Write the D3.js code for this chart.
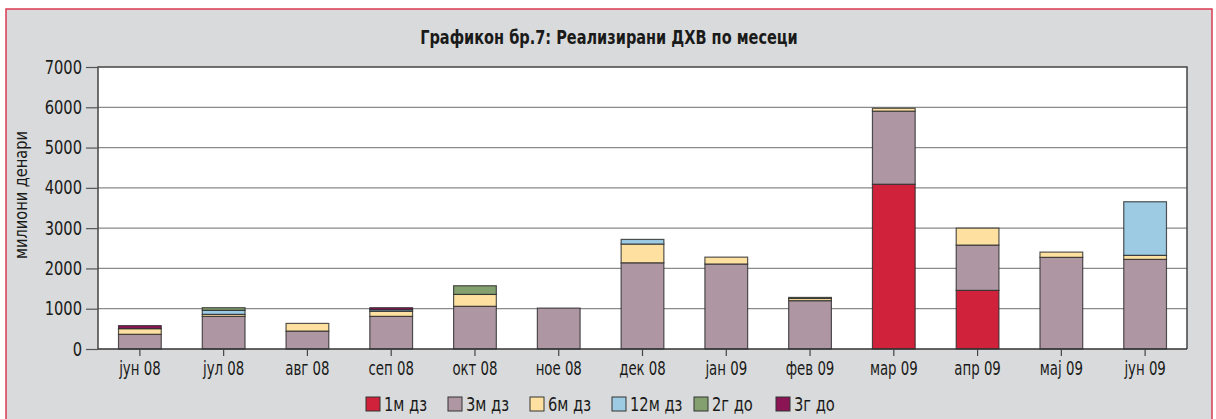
<!DOCTYPE html>
<html>
<head>
<meta charset="utf-8">
<script src="https://cdn.jsdelivr.net/npm/d3@7"></script>
<style>
  body { margin: 0; background: #fff; }
  text { font-family: "Liberation Sans Narrow", "DejaVu Sans Condensed", sans-serif; font-stretch: condensed; fill: #1a1a1a; }
</style>
</head>
<body>
<div id="container"></div>
<script>
var months = ["јун 08", "јул 08", "авг 08", "сеп 08", "окт 08", "ное 08", "дек 08",
              "јан 09", "фев 09", "мар 09", "апр 09", "мај 09", "јун 09"];

var seriesNames = ["1м дз", "3м дз", "6м дз", "12м дз", "2г до", "3г до"];

var m1  = [0,   0,   0,   0,   0,    0,    0,    0,    0,    4090, 1455, 0,    0];
var m3  = [365, 810, 445, 810, 1060, 1015, 2140, 2110, 1200, 1815, 1125, 2275, 2225];
var m6  = [140, 50,  190, 125, 295,  0,    465,  170,  55,   70,   420,  130,  100];
var m12 = [0,   100, 0,   40,  0,    0,    115,  0,    0,    0,    0,    0,    1330];
var y2  = [0,   65,  0,   0,   215,  0,    0,    0,    25,   0,    0,    0,    0];
var y3  = [75,  0,   0,   50,  0,    0,    0,    0,    0,    0,    0,    0,    0];

var yTicks = [0, 1000, 2000, 3000, 4000, 5000, 6000, 7000];

var colors = ["#d0223a", "#ae97a3", "#fee1a1", "#9ccbe3", "#84a06f", "#8b1455"];

var W = 1216, H = 419;
var plot = {left: 98, right: 1187, top: 67, bottom: 349};

// squeeze a text horizontally around its anchor point, keeping glyph height
function squeeze(sel, k) {
    sel.each(function() {
        var t = d3.select(this);
        var tx = +t.attr("x") || 0;
        t.attr("transform", "translate(" + tx + ",0) scale(" + k + ",1) translate(" + (-tx) + ",0)");
    });
}

function drawChart() {
    var svg = d3.select("#container")
      .append("svg")
        .attr("width", W)
        .attr("height", H);

    svg.append("rect")
        .attr("x", 0).attr("y", 0).attr("width", W).attr("height", H)
        .attr("fill", "#fff");
    svg.append("rect")
        .attr("x", 6).attr("y", 9).attr("width", 1206).attr("height", H)
        .attr("fill", "#d9dadb")
        .attr("stroke", "#d93a52").attr("stroke-width", 1.5);

    svg.append("text")
        .attr("x", 609).attr("y", 44)
        .attr("text-anchor", "middle")
        .style("font-size", "19px").style("font-weight", "bold")
        .text("Графикон бр.7: Реализирани ДХВ по месеци")
        .call(squeeze, 0.85);

    var x = d3.scaleBand()
        .domain(months)
        .range([plot.left, plot.right])
        .paddingInner(0.49)
        .paddingOuter(0.245);

    var y = d3.scaleLinear()
        .domain([0, 7000])
        .range([plot.bottom, plot.top]);

    svg.append("rect")
        .attr("x", plot.left).attr("y", plot.top)
        .attr("width", plot.right - plot.left).attr("height", plot.bottom - plot.top)
        .attr("fill", "#fff");

    // grid
    svg.append("g")
        .selectAll("line")
        .data(yTicks.filter(function(d) { return d > 0 && d < 7000; }))
        .enter().append("line")
        .attr("x1", plot.left).attr("x2", plot.right)
        .attr("y1", function(d) { return y(d); })
        .attr("y2", function(d) { return y(d); })
        .attr("stroke", "#8a8a8a").attr("stroke-width", 1.2);

    // stacked bars
    var rows = months.map(function(m, i) {
        return {month: m, s0: m1[i], s1: m3[i], s2: m6[i], s3: m12[i], s4: y2[i], s5: y3[i]};
    });
    var stack = d3.stack().keys(["s0", "s1", "s2", "s3", "s4", "s5"]);
    var layers = stack(rows);

    svg.append("g")
        .selectAll("g")
        .data(layers)
        .enter().append("g")
        .attr("fill", function(d, i) { return colors[i]; })
        .selectAll("rect")
        .data(function(d) { return d.filter(function(p) { return p[1] - p[0] > 0; }); })
        .enter().append("rect")
        .attr("x", function(d) { return x(d.data.month); })
        .attr("width", x.bandwidth())
        .attr("y", function(d) { return y(d[1]); })
        .attr("height", function(d) { return y(d[0]) - y(d[1]); })
        .attr("stroke", "#2b2b2b").attr("stroke-opacity", 0.8).attr("stroke-width", 1.2);

    // plot frame
    svg.append("path")
        .attr("d", "M" + plot.left + "," + plot.bottom + "V" + plot.top + "H" + plot.right + "V" + plot.bottom)
        .attr("fill", "none").attr("stroke", "#444").attr("stroke-width", 1.5);
    svg.append("line")
        .attr("x1", plot.left).attr("x2", plot.right)
        .attr("y1", plot.bottom).attr("y2", plot.bottom)
        .attr("stroke", "#333").attr("stroke-width", 1.5);

    // y axis
    var yAxis = svg.append("g")
        .attr("transform", "translate(" + plot.left + ",0)")
        .call(d3.axisLeft(y).tickValues(yTicks).tickSize(12).tickPadding(4).tickFormat(d3.format("d")));
    yAxis.select(".domain").remove();
    yAxis.selectAll("line").attr("stroke", "#555").attr("stroke-width", 1.2);
    yAxis.selectAll("text").style("font-size", "19px").attr("fill", "#1a1a1a")
        .style("font-family", "'Liberation Sans Narrow', 'DejaVu Sans Condensed', sans-serif")
        .call(squeeze, 0.86);

    svg.append("text")
        .attr("transform", "translate(27,195) rotate(-90) scale(0.9,1)")
        .attr("text-anchor", "middle")
        .style("font-size", "18px")
        .text("милиони денари");

    // x axis
    var xAxis = svg.append("g")
        .attr("transform", "translate(0," + plot.bottom + ")")
        .call(d3.axisBottom(x).tickSize(7).tickPadding(6));
    xAxis.select(".domain").remove();
    xAxis.selectAll("line").attr("stroke", "#444").attr("stroke-width", 1.2);
    xAxis.selectAll("text").style("font-size", "19px").attr("fill", "#1a1a1a")
        .style("font-family", "'Liberation Sans Narrow', 'DejaVu Sans Condensed', sans-serif")
        .call(squeeze, 0.78);

    // legend
    var legend = svg.append("g")
        .selectAll("g")
        .data(seriesNames)
        .enter().append("g")
        .attr("transform", function(d, i) { return "translate(" + (366 + i * 82) + ",397)"; });
    legend.append("rect")
        .attr("width", 14).attr("height", 14)
        .attr("fill", function(d, i) { return colors[i]; })
        .attr("stroke", "#333").attr("stroke-width", 1);
    legend.append("text")
        .attr("x", 18).attr("y", 14)
        .style("font-size", "19px")
        .text(function(d) { return d; })
        .each(function() {
            d3.select(this).attr("transform", "translate(18,0) scale(0.86,1) translate(-18,0)");
        });
}

drawChart();
</script>
</body>
</html>
